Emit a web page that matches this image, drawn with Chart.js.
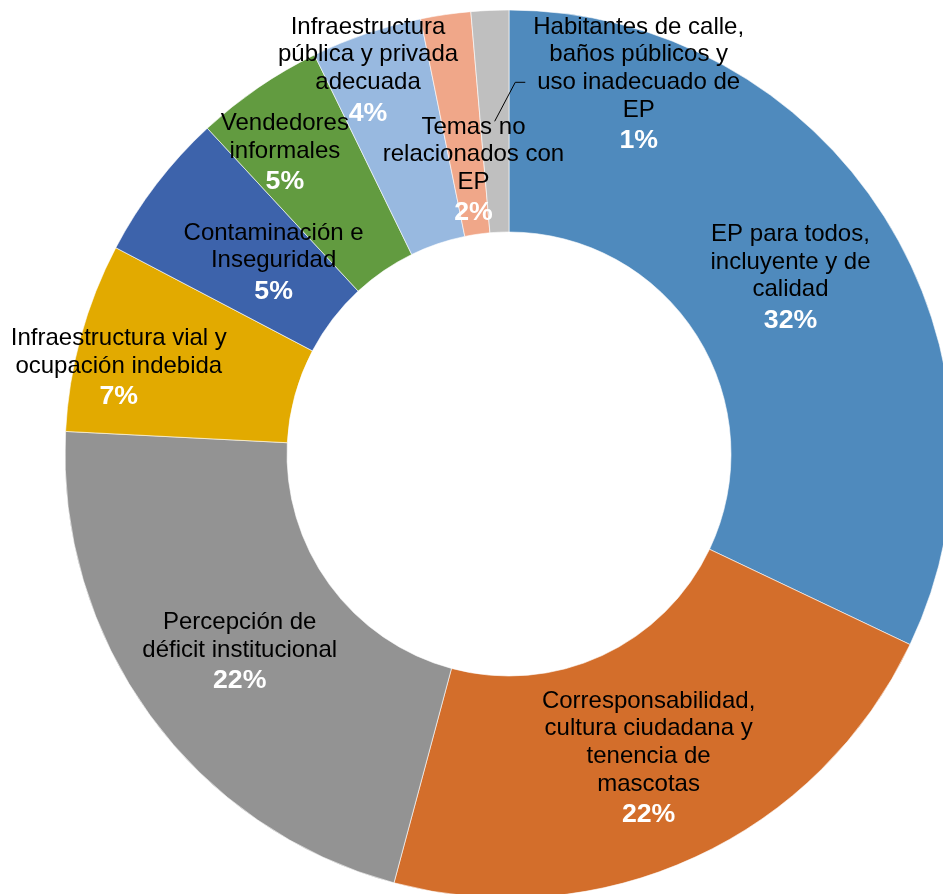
<!DOCTYPE html>
<html>
<head>
<meta charset="utf-8">
<script src="https://cdn.jsdelivr.net/npm/chart.js@4"></script>
<style>
html,body{margin:0;padding:0;background:#fff;overflow:hidden;width:943px;height:894px}
canvas{display:block}
</style>
</head>
<body>
<canvas id="c" width="1018" height="908" style="width:1018px;height:908px"></canvas>
<script>
// ---- data ----
const categories = [
  ["EP para todos,", "incluyente y de", "calidad"],
  ["Corresponsabilidad,", "cultura ciudadana y", "tenencia de", "mascotas"],
  ["Percepción de", "déficit institucional"],
  ["Infraestructura vial y", "ocupación indebida"],
  ["Contaminación e", "Inseguridad"],
  ["Vendedores", "informales"],
  ["Infraestructura", "pública y privada", "adecuada"],
  ["Temas no", "relacionados con", "EP"],
  ["Habitantes de calle,", "baños públicos y", "uso inadecuado de", "EP"]
];
const values = [32.06, 22.11, 21.64, 6.88, 5.42, 4.67, 4.03, 1.82, 1.37];
const colors = ["#4F8ABD", "#D36E2B", "#939393", "#E2AA00", "#3D63AB", "#629B40", "#98B9E0", "#F0A789", "#BFBFBF"];

// ---- label layout (offsets from slice centre, px) ----
const labelOffsets = [[0,0],[0,0],[0,0],[-69,0],[29,9],[-36,-28],[-34,-70],[12,44],[144,-39]];
const leaderLines = [false,false,false,false,false,false,false,false,true];
const LINE = 27.6, PCT_GAP = 31.6, CAP = 17.2;
const FONT = '"Liberation Sans", Arial, sans-serif';

const labelPlugin = {
  id: 'sliceLabels',
  afterDatasetsDraw(chart) {
    const ctx = chart.ctx;
    const meta = chart.getDatasetMeta(0);
    const total = values.reduce((a, b) => a + b, 0);
    meta.data.forEach((arc, i) => {
      const c = arc.getCenterPoint();
      const cx = c.x + labelOffsets[i][0];
      const cy = c.y + labelOffsets[i][1];
      const lines = categories[i];
      const n = lines.length;
      const h = (n - 1) * LINE + PCT_GAP + CAP;
      const b0 = cy + CAP - h / 2;
      ctx.save();
      ctx.textAlign = 'center';
      ctx.textBaseline = 'alphabetic';
      ctx.font = '24px ' + FONT;
      let maxW = 0;
      lines.forEach(t => { maxW = Math.max(maxW, ctx.measureText(t).width); });
      if (leaderLines[i]) {
        const lx = cx - maxW / 2 - 8;
        ctx.strokeStyle = '#000';
        ctx.lineWidth = 1;
        ctx.beginPath();
        ctx.moveTo(c.x, c.y);
        ctx.lineTo(lx - 10, cy);
        ctx.lineTo(lx, cy);
        ctx.stroke();
      }
      ctx.fillStyle = '#000';
      lines.forEach((t, k) => ctx.fillText(t, cx, b0 + k * LINE));
      ctx.font = 'bold 26.7px ' + FONT;
      ctx.fillStyle = '#fff';
      const pct = Math.round(values[i] / total * 100) + '%';
      ctx.fillText(pct, cx, b0 + (n - 1) * LINE + PCT_GAP);
      ctx.restore();
    });
  }
};

new Chart(document.getElementById('c'), {
  type: 'doughnut',
  data: {
    labels: categories,
    datasets: [{
      data: values,
      backgroundColor: colors,
      borderColor: '#ffffff',
      borderWidth: 0.6,
      hoverOffset: 0
    }]
  },
  options: {
    responsive: false,
    animation: false,
    radius: 444,
    cutout: '50%',
    rotation: 0,
    circumference: 360,
    events: [],
    plugins: { legend: { display: false }, tooltip: { enabled: false } }
  },
  plugins: [labelPlugin]
});
</script>
</body>
</html>
